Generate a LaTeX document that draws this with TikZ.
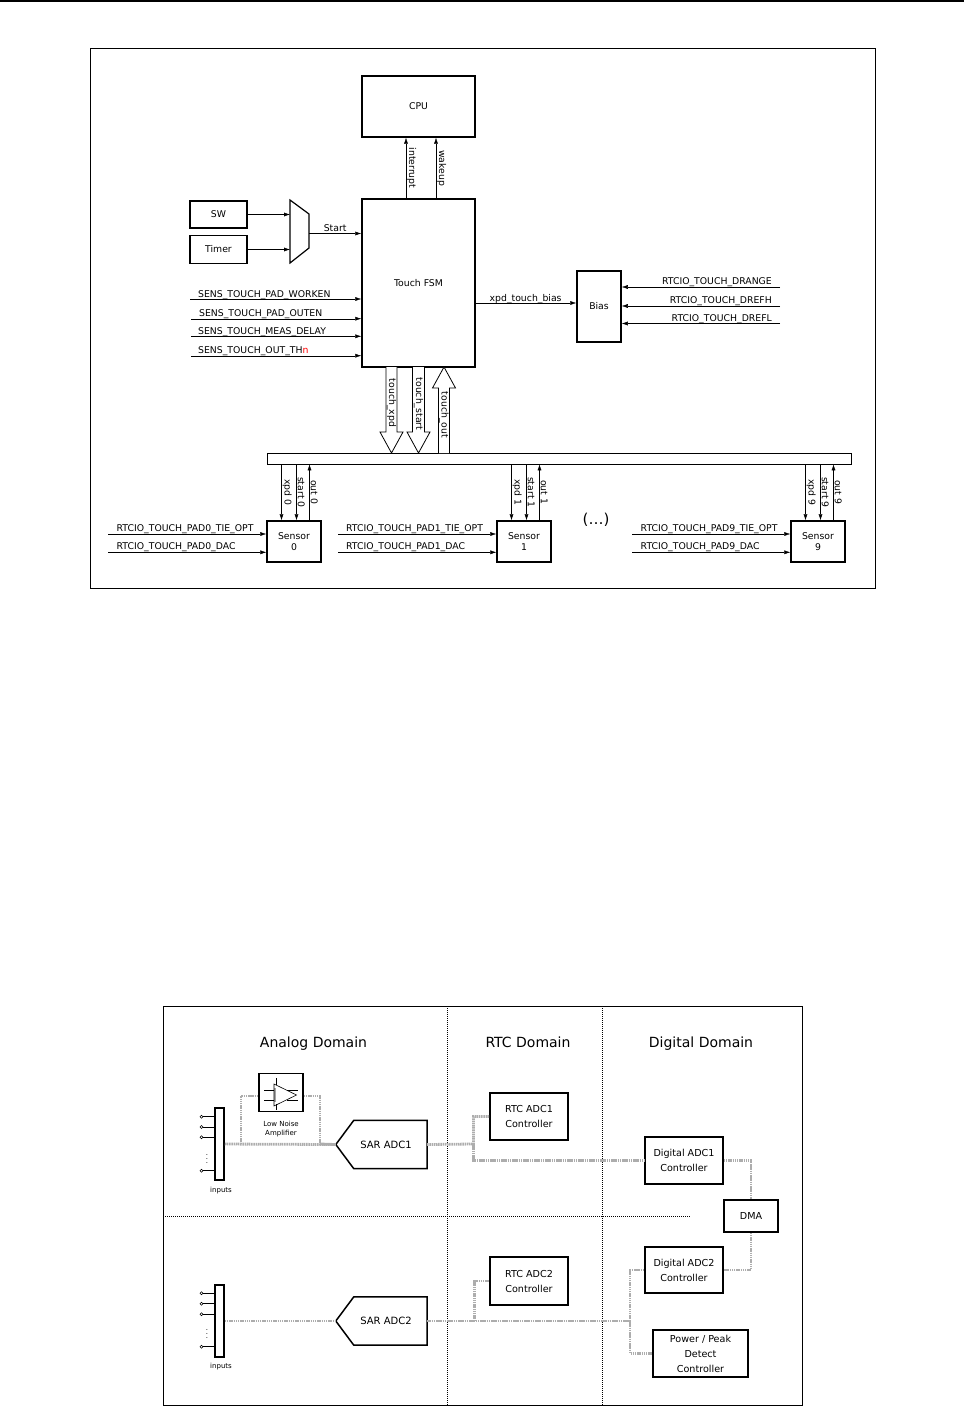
\documentclass[tikz,border=0pt]{standalone}
\usepackage{fontspec}
\setmainfont{DejaVu Sans}
\usetikzlibrary{arrows.meta,positioning}

\begin{document}
\begin{tikzpicture}[x=1pt,y=-1pt,>={Latex[length=6pt,width=4pt]},font=\fontsize{9.3}{11}\selectfont,
blk/.style={draw,line width=1.5pt,align=center,inner sep=0pt},
sig/.style={draw=black!32,line width=2.8pt,dash pattern=on 1.5pt off 0.7pt},
sep/.style={line width=0.8pt,dash pattern=on 1pt off 1pt},
vlab/.style={rotate=-90,anchor=south,inner sep=1pt},
lab/.style={anchor=base west,inner sep=0pt},
pin/.style={circle,draw,inner sep=0pt,minimum size=3pt,line width=0.6pt},
tiny/.style={font=\fontsize{7}{9}\selectfont,align=center},
mid/.style={font=\fontsize{9.6}{15}\selectfont},
head/.style={font=\fontsize{14}{16}\selectfont,anchor=base}]
\useasboundingbox (0,0) rectangle (964,1407);
\draw[line width=1.6pt] (0,1) -- (964,1);

\draw[line width=0.8pt] (90,48) rectangle (875,588);
\node[blk,minimum width=113,minimum height=61](cpu) at (418.5,106.5){CPU};
\node[blk,minimum width=113,minimum height=168](fsm) at (418.5,283){Touch FSM};
\node[blk,minimum width=57,minimum height=27](sw) at (218.5,214.5){SW};
\node[blk,minimum width=57,minimum height=28,below=6pt of sw](timer){Timer};
\node[blk,minimum width=44,minimum height=71](bias) at (599,306.5){Bias};
\node[draw,line width=0.8pt,minimum width=584,minimum height=11,inner sep=0pt](bus) at (559,458.5){};
\node[blk,minimum width=54,minimum height=41](s0) at (294,541.5){Sensor\\0};
\node[blk,minimum width=54,minimum height=41](s1) at (524,541.5){Sensor\\1};
\node[blk,minimum width=54,minimum height=41](s9) at (818,541.5){Sensor\\9};
\node[font=\fontsize{15}{18}\selectfont](etc) at (596,520){(…)};

\draw[line width=1.2pt] (290,200) -- (309,214) -- (309,248) -- (290,263) -- cycle;
\coordinate (muxin) at (290,231);
\coordinate (muxout) at (309,233.5);
\draw[->] (sw) -- (sw -| muxin);
\draw[->] (timer) -- (timer -| muxin);
\draw[->] (muxout) -- (muxout -| fsm.west) node[midway,anchor=base,yshift=2.5pt,inner sep=0pt](lstart){Start};

\draw[->] ([xshift=-12.5pt]fsm.north) -- ([xshift=-12.5pt]cpu.south) node[midway,vlab](lint){interrupt};
\draw[->] ([xshift=17.5pt]fsm.north) -- ([xshift=17.5pt]cpu.south) node[midway,vlab](lwake){wakeup};

\coordinate (wk) at (190,299);
\coordinate (oe) at (191,318.7);
\coordinate (md) at (191,336.3);
\coordinate (th) at (191,355.7);
\draw[->] (wk) -- (wk -| fsm.west);
\draw[->] (oe) -- (oe -| fsm.west);
\draw[->] (md) -- (md -| fsm.west);
\draw[->] (th) -- (th -| fsm.west);
\node[lab](lwk) at (198,297){SENS\_TOUCH\_PAD\_WORKEN};
\node[lab](loe) at (199,316.7){SENS\_TOUCH\_PAD\_OUTEN};
\node[lab](lmd) at (198,334.3){SENS\_TOUCH\_MEAS\_DELAY};
\node[lab](lth) at (198,353.7){SENS\_TOUCH\_OUT\_TH\textcolor{red}{n}};

\coordinate (xb) at (475,303);
\draw[->] (xb) -- (xb -| bias.west) node[midway,anchor=base,yshift=2pt,inner sep=0pt](lxb){xpd\_touch\_bias};
\coordinate (dg) at (780,287);
\coordinate (dh) at (780,306);
\coordinate (dl) at (780,323.5);
\draw[->] (dg) -- (dg -| bias.east);
\draw[->] (dh) -- (dh -| bias.east);
\draw[->] (dl) -- (dl -| bias.east);
\node[lab,anchor=base east](ldg) at (772,284.5){RTCIO\_TOUCH\_DRANGE};
\node[lab,anchor=base east](ldh) at (772,303.5){RTCIO\_TOUCH\_DREFH};
\node[lab,anchor=base east](ldl) at (772,321){RTCIO\_TOUCH\_DREFL};

\draw[line width=0.8pt,fill=white] (386,367) -- (386,432) -- (380,432) -- (391.5,453) -- (403,432) -- (397,432) -- (397,367);
\draw[line width=0.8pt,fill=white] (412.5,367) -- (412.5,432) -- (407,432) -- (418.5,453) -- (430,432) -- (424.5,432) -- (424.5,367);
\draw[line width=0.8pt,fill=white] (438.5,453) -- (438.5,388) -- (432.5,388) -- (444,367) -- (455.5,388) -- (449.5,388) -- (449.5,453);
\node[rotate=-90,inner sep=0pt](lxpd) at (391.5,403){touch\_xpd};
\node[rotate=-90,inner sep=0pt](lst) at (418.5,404){touch\_start};
\node[rotate=-90,inner sep=0pt](lout) at (444,415){touch\_out};

\coordinate (x0) at ([xshift=-12.5pt]s0.north);
\coordinate (st0) at ([xshift=2.5pt]s0.north);
\coordinate (o0) at ([xshift=15.5pt]s0.north);
\draw[->] (x0 |- bus.south) -- (x0) node[midway,vlab](lx0){xpd 0};
\draw[->] (st0 |- bus.south) -- (st0) node[midway,vlab](lst0){start 0};
\draw[->] (o0) -- (o0 |- bus.south) node[midway,vlab](lo0){out 0};
\coordinate (x1) at ([xshift=-12.5pt]s1.north);
\coordinate (st1) at ([xshift=2.5pt]s1.north);
\coordinate (o1) at ([xshift=15.5pt]s1.north);
\draw[->] (x1 |- bus.south) -- (x1) node[midway,vlab](lx1){xpd 1};
\draw[->] (st1 |- bus.south) -- (st1) node[midway,vlab](lst1){start 1};
\draw[->] (o1) -- (o1 |- bus.south) node[midway,vlab](lo1){out 1};
\coordinate (x9) at ([xshift=-12.5pt]s9.north);
\coordinate (st9) at ([xshift=2.5pt]s9.north);
\coordinate (o9) at ([xshift=15.5pt]s9.north);
\draw[->] (x9 |- bus.south) -- (x9) node[midway,vlab](lx9){xpd 9};
\draw[->] (st9 |- bus.south) -- (st9) node[midway,vlab](lst9){start 9};
\draw[->] (o9) -- (o9 |- bus.south) node[midway,vlab](lo9){out 9};

\coordinate (t0) at (108,534);
\coordinate (d0) at (108,552.3);
\coordinate (t1) at (338,534);
\coordinate (d1) at (338,552.3);
\coordinate (t9) at (632,534);
\coordinate (d9) at (632,552.3);
\draw[->] (t0) -- (t0 -| s0.west);
\draw[->] (d0) -- (d0 -| s0.west);
\draw[->] (t1) -- (t1 -| s1.west);
\draw[->] (d1) -- (d1 -| s1.west);
\draw[->] (t9) -- (t9 -| s9.west);
\draw[->] (d9) -- (d9 -| s9.west);
\node[lab](lt0) at (116.5,531){RTCIO\_TOUCH\_PAD0\_TIE\_OPT};
\node[lab](ld0) at (116.5,549.8){RTCIO\_TOUCH\_PAD0\_DAC};
\node[lab](lt1) at (346,531){RTCIO\_TOUCH\_PAD1\_TIE\_OPT};
\node[lab](ld1) at (346,549.8){RTCIO\_TOUCH\_PAD1\_DAC};
\node[lab](lt9) at (640.5,531){RTCIO\_TOUCH\_PAD9\_TIE\_OPT};
\node[lab](ld9) at (640.5,549.8){RTCIO\_TOUCH\_PAD9\_DAC};

\draw[line width=1pt] (163,1006) rectangle (802,1405);
\draw[sep] (447,1006) -- (447,1405);
\draw[sep] (602,1006) -- (602,1405);
\draw[sep] (163,1216) -- (690,1216);
\node[head](ana) at (313.5,1047.5){Analog Domain};
\node[head](rtcd) at (528,1047.5){RTC Domain};
\node[head](digd) at (701,1047.5){Digital Domain};

\node[draw,line width=1.5pt,minimum width=9,minimum height=72,inner sep=0pt](in1) at (219.5,1144){};
\node[draw,line width=1.5pt,minimum width=9,minimum height=72,inner sep=0pt](in2) at (219.5,1321){};
\node[pin](p1a) at (201.5,1116.7){};
\node[pin](p1b) at (201.5,1127){};
\node[pin](p1c) at (201.5,1137.3){};
\node[pin](p1d) at (201.5,1170.7){};
\node[pin](p2a) at (201.5,1293.3){};
\node[pin](p2b) at (201.5,1303.7){};
\node[pin](p2c) at (201.5,1314.3){};
\node[pin](p2d) at (201.5,1346.7){};
\draw[line width=0.8pt] (p1a) -- (p1a -| in1.west);
\draw[line width=0.8pt] (p1b) -- (p1b -| in1.west);
\draw[line width=0.8pt] (p1c) -- (p1c -| in1.west);
\draw[line width=0.8pt] (p1d) -- (p1d -| in1.west);
\draw[line width=0.8pt] (p2a) -- (p2a -| in2.west);
\draw[line width=0.8pt] (p2b) -- (p2b -| in2.west);
\draw[line width=0.8pt] (p2c) -- (p2c -| in2.west);
\draw[line width=0.8pt] (p2d) -- (p2d -| in2.west);
\node[tiny,inner sep=0pt](v1) at (207,1156){$\vdots$};
\node[tiny,inner sep=0pt](v2) at (207,1331){$\vdots$};
\node[tiny](li1) at (221,1191){inputs};
\node[tiny](li2) at (221,1367){inputs};

\node[blk,minimum width=44,minimum height=38](lna) at (281,1092.5){};
\draw[black!35,line width=1.5pt] (275,1088) -- (275,1102);
\draw[line width=0.6pt] (274,1084) -- (296.5,1095) -- (274,1106) -- cycle;
\draw[line width=0.6pt] (264,1090) -- (274,1090) (264,1100) -- (274,1100) (287,1090) -- (298,1090) (287,1100) -- (298,1100) (276,1078) -- (276,1085) (276,1104) -- (276,1110);
\node[tiny](llna) at (281,1129.5){Low Noise\\Amplifier};

\node[minimum width=91,minimum height=48,inner sep=0pt](sar1) at (381.5,1144.5){};
\node[minimum width=91,minimum height=48,inner sep=0pt](sar2) at (381.5,1321){};
\draw[line width=1.5pt] (sar1.west) -- ([xshift=18pt]sar1.north west) -- (sar1.north east) -- (sar1.south east) -- ([xshift=18pt]sar1.south west) -- cycle;
\draw[line width=1.5pt] (sar2.west) -- ([xshift=18pt]sar2.north west) -- (sar2.north east) -- (sar2.south east) -- ([xshift=18pt]sar2.south west) -- cycle;
\node[font=\fontsize{10}{12}\selectfont](lsar1) at (386,1145){SAR ADC1};
\node[font=\fontsize{10}{12}\selectfont](lsar2) at (386,1321){SAR ADC2};

\node[blk,mid,minimum width=78,minimum height=47](rtc1) at (529,1116.5){RTC ADC1\\Controller};
\node[blk,mid,minimum width=78,minimum height=47](dig1) at (684,1160.5){Digital ADC1\\Controller};
\node[blk,mid,minimum width=54,minimum height=32](dma) at (751,1216){DMA};
\node[blk,mid,minimum width=78,minimum height=46](dig2) at (684,1270){Digital ADC2\\Controller};
\node[blk,mid,minimum width=78,minimum height=48](rtc2) at (529,1281){RTC ADC2\\Controller};
\node[blk,mid,minimum width=95,minimum height=47](pwr) at (700.5,1353.5){Power / Peak\\Detect\\Controller};

\coordinate (jl) at (241,1144);
\coordinate (jr) at (320,1144);
\draw[sig] (in1) -- (sar1.west);
\draw[sig] (jl) |- ([yshift=-3.5pt]lna.west);
\draw[sig] ([yshift=-3.5pt]lna.east) -| (jr);
\draw[black!32,line width=2.8pt] (jr) -- (sar1.west);
\coordinate (b1) at (473.5,1144);
\draw[sig] (sar1.east) -- (b1) |- (rtc1.west);
\draw[sig] (b1) |- (dig1.west);
\draw[sig] (dig1.east) -| (dma.north);
\draw[sig] (dma.south) |- (dig2.east);
\coordinate (b2) at (474.5,1321);
\coordinate (b3) at (630,1321);
\draw[sig] (in2) -- (sar2.west);
\draw[sig] (sar2.east) -- (b3);
\draw[sig] (b2) |- (rtc2.west);
\draw[sig] (b3) |- (dig2.west);
\draw[sig] (b3) |- (pwr.west);
\end{tikzpicture}
\end{document}
